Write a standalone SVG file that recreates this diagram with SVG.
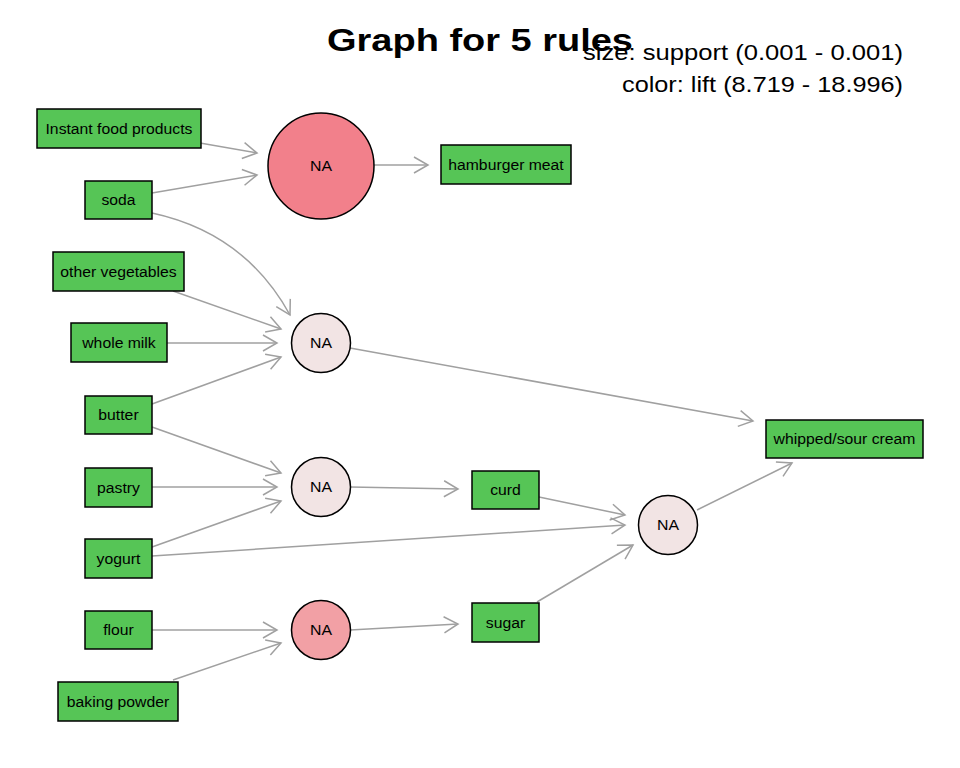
<svg xmlns="http://www.w3.org/2000/svg" width="960" height="768" viewBox="0 0 960 768">
<defs>
<marker id="arr" viewBox="-16 -10 18 20" refX="0" refY="0" markerWidth="18" markerHeight="20" orient="auto" markerUnits="userSpaceOnUse">
<path d="M-14,-8 L0,0 L-14,8" fill="none" stroke="#a0a0a0" stroke-width="1.5"/>
</marker>
</defs>
<style>
.e{fill:none;stroke:#a0a0a0;stroke-width:1.5;marker-end:url(#arr)}
.box{fill:#56c556;stroke:#000;stroke-width:1.5}
.c{stroke:#000;stroke-width:1.5}
.lb{font-family:"Liberation Sans",Arial,sans-serif;font-size:14px;fill:#000;text-anchor:middle}
.t{font-family:"Liberation Sans",Arial,sans-serif;font-weight:bold;font-size:31px;fill:#000}
.lg{font-family:"Liberation Sans",Arial,sans-serif;font-size:22px;fill:#000}
</style>
<rect width="960" height="768" fill="#fff"/>
<g id="connectors">
<path class="e" d="M200,143 L257,153"/>
<path class="e" d="M152,193 L257,175"/>
<path class="e" d="M374,165 L428,165"/>
<path class="e" d="M152,213 Q245,233 290,315"/>
<path class="e" d="M173,291 L281,329"/>
<path class="e" d="M167,343 L277,343"/>
<path class="e" d="M152,404 L281,357"/>
<path class="e" d="M350,348 L753,421"/>
<path class="e" d="M152,427 L281,473"/>
<path class="e" d="M152,487 L277,487"/>
<path class="e" d="M152,547 L281,501"/>
<path class="e" d="M152,556 L625,525"/>
<path class="e" d="M350,487 L458,489"/>
<path class="e" d="M539,497 L625,515"/>
<path class="e" d="M152,630 L277,630"/>
<path class="e" d="M173,680 L281,643"/>
<path class="e" d="M350,630 L458,624"/>
<path class="e" d="M537,602 L633,545"/>
<path class="e" d="M697,510 L792,463"/>
</g>
<g id="n-instant"><rect class="box" x="37" y="109" width="164" height="39"/><text class="lb" x="119" y="133.5" textLength="147" lengthAdjust="spacingAndGlyphs">Instant food products</text></g>
<g id="n-soda"><rect class="box" x="85" y="181" width="67" height="38"/><text class="lb" x="118.5" y="205" textLength="34" lengthAdjust="spacingAndGlyphs">soda</text></g>
<g id="r1"><circle class="c" cx="321" cy="166" r="53" fill="#f2808b"/><text class="lb" x="321" y="171" textLength="22" lengthAdjust="spacingAndGlyphs">NA</text></g>
<g id="n-hamburger"><rect class="box" x="441" y="145" width="130" height="39"/><text class="lb" x="506" y="169.5" textLength="115.5" lengthAdjust="spacingAndGlyphs">hamburger meat</text></g>
<g id="n-othveg"><rect class="box" x="53" y="252" width="131" height="39"/><text class="lb" x="118.5" y="276.5" textLength="116.4" lengthAdjust="spacingAndGlyphs">other vegetables</text></g>
<g id="n-wholemilk"><rect class="box" x="71" y="323" width="96" height="39"/><text class="lb" x="119" y="347.5" textLength="73.5" lengthAdjust="spacingAndGlyphs">whole milk</text></g>
<g id="n-butter"><rect class="box" x="85" y="396" width="67" height="38"/><text class="lb" x="118.5" y="420" textLength="40.3" lengthAdjust="spacingAndGlyphs">butter</text></g>
<g id="r2"><circle class="c" cx="321" cy="343" r="29.5" fill="#f2e4e4"/><text class="lb" x="321" y="348" textLength="22" lengthAdjust="spacingAndGlyphs">NA</text></g>
<g id="n-pastry"><rect class="box" x="85" y="468" width="67" height="39"/><text class="lb" x="118.5" y="492.5" textLength="42.9" lengthAdjust="spacingAndGlyphs">pastry</text></g>
<g id="r3"><circle class="c" cx="321" cy="487" r="29.5" fill="#f2e4e4"/><text class="lb" x="321" y="492" textLength="22" lengthAdjust="spacingAndGlyphs">NA</text></g>
<g id="n-yogurt"><rect class="box" x="85" y="539" width="67" height="39"/><text class="lb" x="118.5" y="563.5" textLength="43.8" lengthAdjust="spacingAndGlyphs">yogurt</text></g>
<g id="n-flour"><rect class="box" x="85" y="611" width="67" height="38"/><text class="lb" x="118.5" y="635" textLength="30.6" lengthAdjust="spacingAndGlyphs">flour</text></g>
<g id="r4"><circle class="c" cx="321" cy="630" r="29.5" fill="#f2a0a5"/><text class="lb" x="321" y="635" textLength="22" lengthAdjust="spacingAndGlyphs">NA</text></g>
<g id="n-baking"><rect class="box" x="58" y="682" width="120" height="39"/><text class="lb" x="118" y="706.5" textLength="102.4" lengthAdjust="spacingAndGlyphs">baking powder</text></g>
<g id="n-curd"><rect class="box" x="472" y="471" width="67" height="38"/><text class="lb" x="505.5" y="495" textLength="30.6" lengthAdjust="spacingAndGlyphs">curd</text></g>
<g id="n-sugar"><rect class="box" x="472" y="603" width="67" height="39"/><text class="lb" x="505.5" y="627.5" textLength="39.4" lengthAdjust="spacingAndGlyphs">sugar</text></g>
<g id="r5"><circle class="c" cx="668" cy="525" r="29.5" fill="#f2e4e4"/><text class="lb" x="668" y="530" textLength="22" lengthAdjust="spacingAndGlyphs">NA</text></g>
<g id="n-whipped"><rect class="box" x="766" y="420" width="157" height="38"/><text class="lb" x="844.5" y="444" textLength="141.8" lengthAdjust="spacingAndGlyphs">whipped/sour cream</text></g>
<g id="title"><text class="t" x="327" y="51" textLength="306" lengthAdjust="spacingAndGlyphs">Graph for 5 rules</text></g>
<g id="legend">
<text class="lg" x="583" y="60" textLength="320" lengthAdjust="spacingAndGlyphs">size: support (0.001 - 0.001)</text>
<text class="lg" x="622" y="92" textLength="281" lengthAdjust="spacingAndGlyphs">color: lift (8.719 - 18.996)</text>
</g>
</svg>
